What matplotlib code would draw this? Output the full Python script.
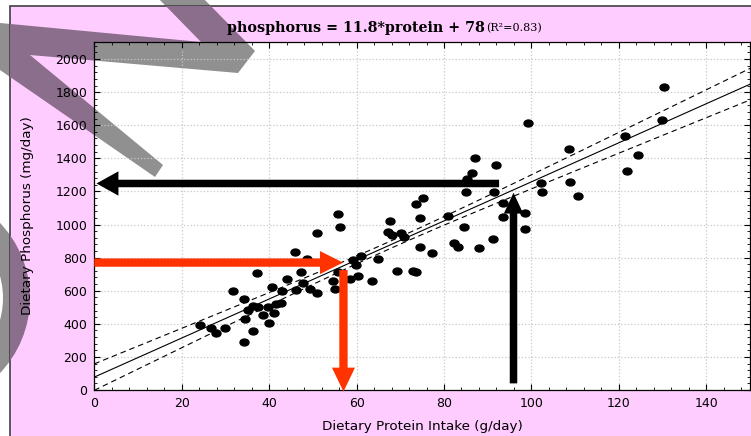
import matplotlib
matplotlib.use("Agg")
import numpy as np
import matplotlib.pyplot as plt
from matplotlib import patches, transforms
from matplotlib.path import Path
from matplotlib.ticker import MultipleLocator, AutoMinorLocator

# 식이 단백질 섭취량 (g/day) / 인 섭취량 (mg/day) - 그림에서 읽은 값
protein = [24.1, 26.7, 27.8, 29.9, 31.8, 34.3, 34.3, 34.5, 36.2, 35.1,
           36.4, 37.3, 37.5, 38.7, 40.0, 39.8, 40.6, 41.1, 41.5, 42.6,
           42.9, 44.1, 46.0, 46.1, 47.2, 47.8, 48.6, 49.3, 51.0, 50.9,
           55.8, 56.3, 54.7, 55.1, 55.8, 58.5, 59.2, 59.9, 60.4, 60.9,
           63.5, 65.0, 67.6, 67.2, 68.1, 70.1, 70.8, 69.3, 72.9, 73.7,
           74.5, 74.5, 73.5, 75.3, 77.2, 80.8, 82.2, 83.3, 84.5, 85.0,
           85.2, 86.4, 87.2, 88.0, 91.3, 92.0, 91.5, 93.5, 93.5, 98.6,
           98.5, 99.2, 102.1, 102.5, 108.6, 108.9, 110.6, 121.4, 124.4, 121.9,
           129.9, 130.3]
phosphorus = [393, 373, 346, 375, 598, 292, 548, 432, 355, 483,
              508, 705, 500, 453, 403, 503, 625, 463, 520, 523,
              600, 671, 833, 604, 716, 645, 793, 612, 946, 586,
              1062, 983, 659, 609, 715, 671, 785, 758, 689, 808,
              660, 790, 1024, 952, 935, 947, 924, 722, 722, 713,
              1041, 862, 1124, 1162, 827, 1053, 890, 862, 983, 1195,
              1277, 1313, 1405, 856, 911, 1358, 1195, 1128, 1045, 1071,
              973, 1615, 1253, 1195, 1454, 1259, 1174, 1537, 1418, 1325,
              1630, 1833]

# 회귀식 phosphorus = 11.8*protein + 78
slope, intercept = 11.8, 78
r2 = 0.83
# 신뢰구간 폭
ci_center, ci_min, ci_growth = 68, 22, 1.13

# 화살표 (꼬리, 머리) - 데이터 좌표
arrow_black_h = ((92.6, 1248), (0.5, 1248))
arrow_red_h = ((0, 770), (56.9, 770))
arrow_red_v = ((57.0, 725), (57.0, -10))
arrow_black_v = ((95.9, 40), (95.9, 1192))

# 배경 워터마크 조각 (픽셀 좌표)
mark_poly = [(155, -5), (200, -5), (255, 51), (238, 73), (30, 55), (163, 165),
             (155, 177), (0, 70), (0, 23), (201, 42)]
ring_center, ring_outer, ring_inner = (-79, 298), 109, 82

W, H = 751, 436
fig = plt.figure(figsize=(W / 100, H / 100), dpi=100, facecolor='white')

PINK = '#ffccff'
GRAY = '#909090'
PURPLE = '#8b6e8b'

# 배경용 축 (픽셀 좌표)
bg = fig.add_axes([0, 0, 1, 1], zorder=-1)
bg.set_xlim(0, W)
bg.set_ylim(H, 0)
bg.axis('off')


def mark_shapes(color, z):
    p = patches.Polygon(mark_poly, closed=True, facecolor=color,
                        edgecolor='none', zorder=z)
    w = patches.Wedge(ring_center, ring_outer, -90, 90,
                      width=ring_outer - ring_inner,
                      facecolor=color, edgecolor='none', zorder=z)
    return [p, w]


for s in mark_shapes(GRAY, 1):
    bg.add_patch(s)
box = patches.Rectangle((9.5, 6.5), 800, 500, facecolor=PINK,
                        edgecolor='#404040', lw=1.2, zorder=2)
bg.add_patch(box)
for s in mark_shapes(PURPLE, 3):
    bg.add_patch(s)
    s.set_clip_path(box)

ax = fig.add_axes([94.3 / W, (H - 390) / H, (750 - 94.3) / W, (390 - 42) / H])
ax.set_facecolor('white')
ax.set_xlim(0, 150)
ax.set_ylim(0, 2103)
# 플롯 영역 안쪽의 워터마크는 회색
for s in mark_shapes(GRAY, 0.5):
    s.set_transform(bg.transData)
    ax.add_patch(s)

ax.xaxis.set_major_locator(MultipleLocator(20))
ax.yaxis.set_major_locator(MultipleLocator(200))
ax.xaxis.set_minor_locator(AutoMinorLocator(5))
ax.yaxis.set_minor_locator(AutoMinorLocator(5))
ax.tick_params(which='both', direction='in', top=True, right=True, labelsize=9, pad=5)
ax.tick_params(which='major', length=4, width=0.8)
ax.tick_params(which='minor', length=2, width=0.6)
ax.grid(True, which='major', color='#c8c8c8', linestyle=':', lw=0.9)
ax.set_axisbelow(True)
for sp in ax.spines.values():
    sp.set_linewidth(0.9)

# 회귀선과 신뢰구간
xx = np.linspace(0, 150, 200)
fit = slope * xx + intercept
half = np.sqrt(ci_min ** 2 + (ci_growth * (xx - ci_center)) ** 2)
ax.plot(xx, fit, color='black', lw=0.8, zorder=2)
ax.plot(xx, fit + half, color='black', lw=0.8, ls=(0, (5, 3.5)), zorder=2)
ax.plot(xx, fit - half, color='black', lw=0.8, ls=(0, (5, 3.5)), zorder=2)

dot = Path.unit_circle().transformed(transforms.Affine2D().scale(1.3, 1.0))
ax.scatter(protein, phosphorus, s=42, marker=dot, color='black', zorder=3)


def arrow(tail_tip, color, hl, hw, tw):
    tail, tip = tail_tip
    ax.annotate('', xy=tip, xytext=tail, annotation_clip=False,
                arrowprops=dict(arrowstyle=f'simple,head_length={hl},head_width={hw},tail_width={tw}',
                                mutation_scale=1, color=color, lw=0,
                                shrinkA=0, shrinkB=0), zorder=4)


arrow(arrow_black_h, 'black', 15.8, 17.5, 5.4)
arrow(arrow_red_h, '#ff3300', 16.6, 16.6, 6.0)
arrow(arrow_red_v, '#ff3300', 17.3, 16.6, 6.0)
arrow(arrow_black_v, 'black', 15.0, 14.0, 5.4)

ax.set_xlabel('Dietary Protein Intake (g/day)', fontsize=9.7)
ax.set_ylabel('Dietary Phosphorus (mg/day)', fontsize=9.7)
ax.xaxis.set_label_coords(0.5, (390 - 426.7) / 348)
ax.xaxis.label.set_va('center')
ax.yaxis.set_label_coords((27 - 94.3) / 655.7, 0.5)
ax.yaxis.label.set_va('center')

# 제목
t1 = fig.text(226.7 / W, 1 - 31.7 / H, 'phosphorus = 11.8*protein + 78',
              family='DejaVu Serif', weight='bold', fontsize=10.3,
              ha='left', va='baseline')
fig.canvas.draw()
bb = t1.get_window_extent()
fig.text((bb.x1 + 2) / W, 1 - 31.7 / H, f'(R²={r2})', family='DejaVu Serif',
         fontsize=8, ha='left', va='baseline')

fig.savefig('out.png', dpi=100, facecolor=fig.get_facecolor())
